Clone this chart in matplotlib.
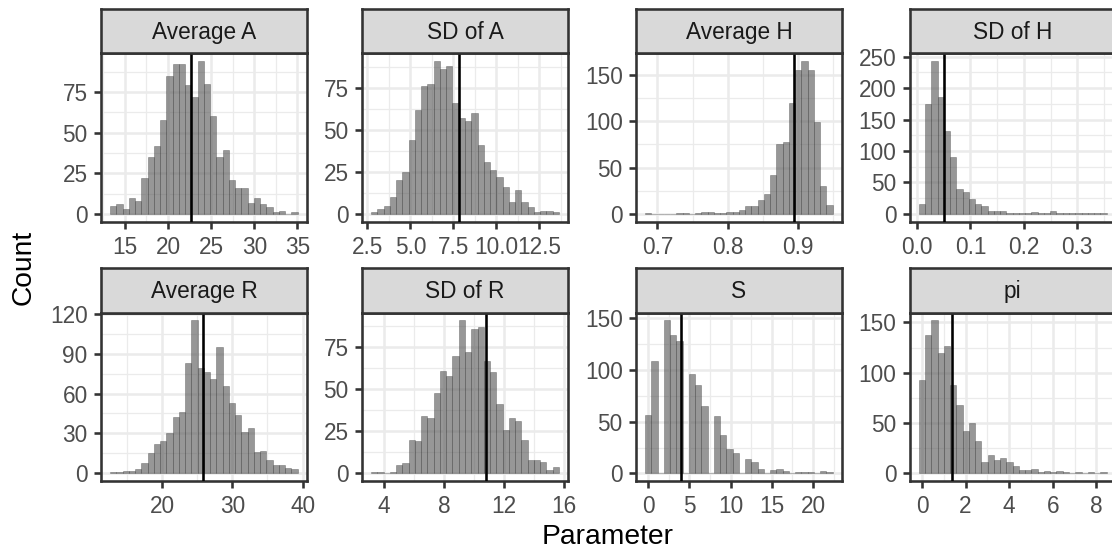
import numpy as np
import matplotlib
matplotlib.use("Agg")
import matplotlib.pyplot as plt
from matplotlib.ticker import FixedLocator

plt.rcParams['font.family'] = ['Liberation Sans', 'DejaVu Sans']

# facet titles
panel_titles = ["Average A", "SD of A", "Average H", "SD of H",
                "Average R", "SD of R", "S", "pi"]

# histogram counts (30 bins each)
counts_avg_a = [5, 6, 3, 10, 8, 22, 35, 42, 58, 85, 92, 92, 79, 72, 94,
                80, 60, 35, 39, 21, 16, 16, 7, 10, 6, 4, 1, 2, 0, 1]
counts_sd_a = [1, 3, 5, 10, 20, 25, 44, 62, 76, 77, 91, 86, 88, 66, 57,
               55, 60, 41, 31, 26, 22, 16, 7, 14, 7, 4, 1, 2, 2, 1]
counts_avg_h = [1, 0, 0, 0, 0, 1, 1, 0, 1, 2, 2, 1, 1, 2, 2,
                4, 9, 9, 15, 21, 42, 75, 78, 120, 155, 165, 155, 99, 30, 10]
counts_sd_h = [16, 175, 243, 186, 132, 91, 40, 35, 24, 16, 13, 5, 5, 4, 2,
               1, 2, 1, 3, 1, 1, 4, 1, 1, 1, 1, 1, 1, 1, 1]
counts_avg_r = [1, 1, 2, 2, 3, 8, 15, 22, 24, 30, 42, 46, 83, 115, 79,
                76, 71, 95, 66, 53, 44, 31, 34, 16, 17, 10, 6, 6, 4, 3]
counts_sd_r = [1, 1, 0, 1, 5, 6, 20, 19, 34, 33, 48, 61, 58, 70, 91,
               72, 86, 87, 67, 60, 41, 26, 33, 31, 20, 8, 8, 7, 2, 4]
counts_s = [56, 109, 0, 148, 134, 128, 0, 96, 85, 65, 0, 55, 37, 24, 20,
            0, 14, 11, 4, 0, 3, 4, 2, 0, 1, 1, 1, 0, 2, 1]
counts_pi = [93, 137, 152, 120, 127, 88, 68, 42, 50, 32, 11, 18, 13, 15, 11,
             7, 3, 3, 4, 1, 2, 1, 2, 1, 0, 1, 0, 1, 0, 1]

all_counts = [counts_avg_a, counts_sd_a, counts_avg_h, counts_sd_h,
              counts_avg_r, counts_sd_r, counts_s, counts_pi]

# first bin centre and bin width of each histogram
bin_start = [13.65, 2.9, 0.6868, 0.0095, 13.05, 3.35, 0.0, 0.0]
bin_width = [0.725, 0.364, 0.0089, 0.0117, 0.89, 0.418, 22 / 29, 0.287]

# vertical reference lines
mean_lines = [22.7, 7.81, 0.8944, 0.051, 25.81, 10.84, 4.03, 1.38]

# axis breaks
x_breaks = [[15, 20, 25, 30, 35], [2.5, 5.0, 7.5, 10.0, 12.5], [0.7, 0.8, 0.9],
            [0.0, 0.1, 0.2, 0.3], [20, 30, 40], [4, 8, 12, 16],
            [0, 5, 10, 15, 20], [0, 2, 4, 6, 8]]
x_labels = [["15", "20", "25", "30", "35"], ["2.5", "5.0", "7.5", "10.0", "12.5"],
            ["0.7", "0.8", "0.9"], ["0.0", "0.1", "0.2", "0.3"],
            ["20", "30", "40"], ["4", "8", "12", "16"],
            ["0", "5", "10", "15", "20"], ["0", "2", "4", "6", "8"]]
y_breaks = [[0, 25, 50, 75], [0, 25, 50, 75], [0, 50, 100, 150],
            [0, 50, 100, 150, 200, 250], [0, 30, 60, 90, 120],
            [0, 25, 50, 75], [0, 50, 100, 150], [0, 50, 100, 150]]

W, H = 1112, 551
fig = plt.figure(figsize=(W / 100, H / 100), dpi=100)

col_left = [100.7, 361.8, 635.7, 909.5]
panel_w = 206.4
row_top = [53.3, 312.7]
panel_h = 168.3
strip_h = 44.5

dark = '#333333'
lw = 1.87
fs = 16.3


def minor_of(breaks, lo, hi):
    d = breaks[1] - breaks[0]
    m = np.arange(breaks[0] - d / 2, hi + d, d)
    return [v for v in m if lo <= v <= hi]


for i, title in enumerate(panel_titles):
    r, c = divmod(i, 4)
    left = col_left[c] / W
    bottom = 1 - (row_top[r] + panel_h) / H
    ax = fig.add_axes([left, bottom, panel_w / W, panel_h / H])

    counts = np.array(all_counts[i])
    w = bin_width[i]
    centers = bin_start[i] + w * np.arange(len(counts))
    ax.bar(centers, counts, width=w, color='#4d4d4d', alpha=0.58,
           edgecolor='#3a3a3a', linewidth=0.4, zorder=2)
    ax.axvline(mean_lines[i], color='black', lw=lw, zorder=3)

    x0, x1 = centers[0] - w / 2, centers[-1] + w / 2
    pad = 0.05 * (x1 - x0)
    xlo, xhi = x0 - pad, x1 + pad
    ymax = counts.max()
    ylo, yhi = -0.05 * ymax, 1.05 * ymax
    ax.set_xlim(xlo, xhi)
    ax.set_ylim(ylo, yhi)

    ax.set_xticks(x_breaks[i])
    ax.set_xticklabels(x_labels[i])
    ax.set_yticks(y_breaks[i])
    ax.xaxis.set_minor_locator(FixedLocator(minor_of(x_breaks[i], xlo, xhi)))
    ax.yaxis.set_minor_locator(FixedLocator(minor_of(y_breaks[i], ylo, yhi)))

    ax.set_axisbelow(True)
    ax.grid(which='major', color='#EBEBEB', lw=lw, zorder=0)
    ax.grid(which='minor', color='#EBEBEB', lw=lw / 2, zorder=0)
    ax.tick_params(which='major', length=4.9, width=lw, color=dark,
                   labelsize=fs, labelcolor='#4D4D4D')
    ax.tick_params(axis='x', pad=5.5)
    ax.tick_params(axis='y', pad=4.5)
    ax.tick_params(which='minor', length=0)
    for sp in ax.spines.values():
        sp.set_color(dark)
        sp.set_linewidth(lw)

    # facet strip
    sax = fig.add_axes([left, bottom + panel_h / H, panel_w / W, strip_h / H])
    sax.set_facecolor('#D9D9D9')
    sax.set_xticks([])
    sax.set_yticks([])
    for sp in sax.spines.values():
        sp.set_color(dark)
        sp.set_linewidth(lw)
    sax.text(0.5, 0.47, title, ha='center', va='center', fontsize=fs,
             color='#1A1A1A', transform=sax.transAxes)

fig.text(608 / W, 1 - 537 / H, 'Parameter', ha='center', va='center',
         fontsize=20.3, color='black')
fig.text(24 / W, 1 - 267 / H, 'Count', ha='center', va='center',
         fontsize=20.3, rotation=90, color='black')

fig.savefig('out.png', dpi=100)
